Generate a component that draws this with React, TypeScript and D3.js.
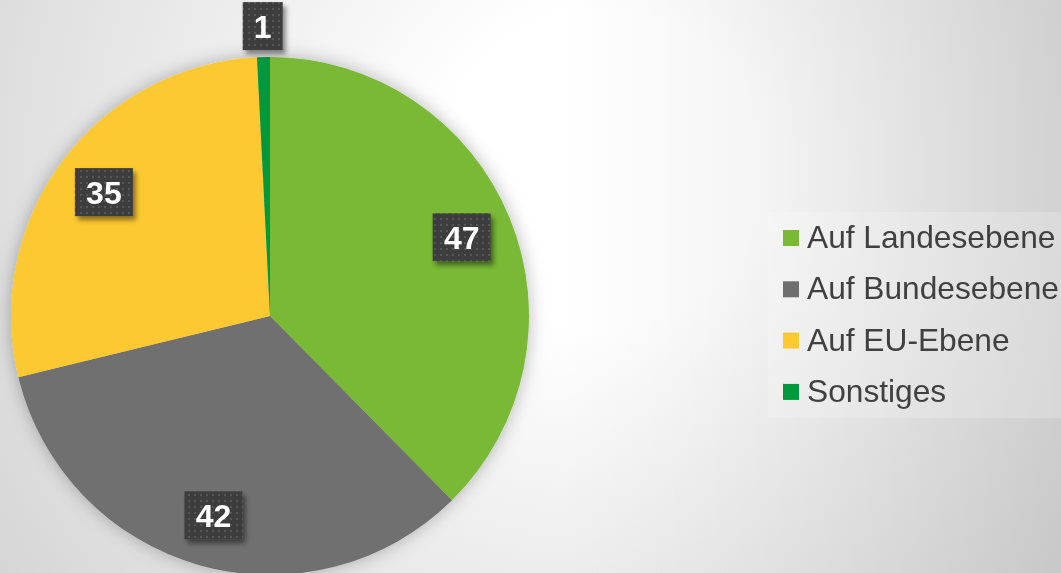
import React from "react";
import * as d3 from "d3";

const categories = ["Auf Landesebene", "Auf Bundesebene", "Auf EU-Ebene", "Sonstiges"];
const values = [47, 42, 35, 1];
const colors = ["#7AB936", "#6F6F6F", "#FDC930", "#00983D"];

const W = 1061;
const H = 573;

export default function App() {
  const cx = 270;
  const cy = 316;
  const R = 259;
  const total = d3.sum(values);
  const pie = d3.pie<number>().sort(null).value((d) => d).startAngle(0).endAngle(2 * Math.PI);
  const arcs = pie(values);
  const arc = d3.arc<d3.PieArcDatum<number>>().innerRadius(0).outerRadius(R);

  const legendX = 783;
  const legendY0 = 248;
  const legendStep = 51.3;

  return (
    <div style={{ position: "fixed", left: 0, top: 0, width: W, height: H }}>
      <svg width={W} height={H} style={{ display: "block" }} fontFamily="'Liberation Sans', Arial, sans-serif">
        <defs>
          <radialGradient id="bg" cx={600} cy={170} r={720} gradientUnits="userSpaceOnUse">
            <stop offset="0" stopColor="#ffffff" />
            <stop offset="0.22" stopColor="#ffffff" />
            <stop offset="1" stopColor="#d6d6d6" />
          </radialGradient>
          <linearGradient id="bgr" x1={560} y1={0} x2={1061} y2={0} gradientUnits="userSpaceOnUse">
            <stop offset="0" stopColor="#000" stopOpacity="0" />
            <stop offset="1" stopColor="#000" stopOpacity="0.1" />
          </linearGradient>
          <filter id="pieShadow" x="-20%" y="-20%" width="140%" height="140%">
            <feDropShadow dx="0" dy="0" stdDeviation="9" floodColor="#000" floodOpacity="0.28" />
          </filter>
          <filter id="boxShadow" x="-30%" y="-30%" width="160%" height="160%">
            <feDropShadow dx="3" dy="4" stdDeviation="2.5" floodColor="#000" floodOpacity="0.45" />
          </filter>
          <pattern id="dots" width="6" height="6" patternUnits="userSpaceOnUse">
            <rect width="6" height="6" fill="#3d3d3d" />
            <rect x="2" y="2" width="2" height="2" fill="#575757" />
          </pattern>
        </defs>
        <rect width={W} height={H} fill="url(#bg)" />
        <rect width={W} height={H} fill="url(#bgr)" />

        <g transform={`translate(${cx},${cy})`} filter="url(#pieShadow)">
          {arcs.map((a, i) => (
            <path key={i} d={arc(a) || ""} fill={colors[i]} />
          ))}
        </g>

        {arcs.map((a, i) => {
          const mid = (a.startAngle + a.endAngle) / 2;
          const small = a.value / total < 0.03;
          const r = small ? R + 31 : R * 0.8;
          const x = cx + r * Math.sin(mid);
          const y = cy - r * Math.cos(mid);
          const label = String(a.value);
          const bw = 18 * label.length + 22;
          const bh = 48;
          return (
            <g key={i}>
              <rect x={x - bw / 2} y={y - bh / 2} width={bw} height={bh} fill="url(#dots)" filter="url(#boxShadow)" />
              <text x={x} y={y + 11.5} textAnchor="middle" fill="#ffffff" fontWeight="bold" fontSize={32}>
                {label}
              </text>
            </g>
          );
        })}

        <rect x={768} y={212} width={W - 768} height={206} fill="#ffffff" fillOpacity={0.2} />
        {categories.map((c, i) => {
          const by = legendY0 + i * legendStep;
          return (
            <g key={c}>
              <rect x={legendX} y={by - 18} width={16} height={16} fill={colors[i]} />
              <text x={807} y={by} fill="#404040" fontSize={31.7}>
                {c}
              </text>
            </g>
          );
        })}
      </svg>
    </div>
  );
}
